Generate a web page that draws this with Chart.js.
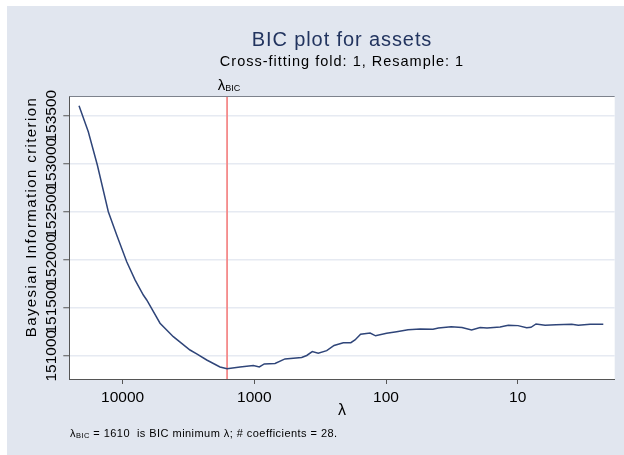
<!DOCTYPE html>
<html><head><meta charset="utf-8">
<script src="https://cdn.jsdelivr.net/npm/chart.js@4/dist/chart.umd.min.js"></script>
<style>html,body{margin:0;padding:0;background:#fff}#c{display:block}</style>
</head><body>
<canvas id="c" width="624" height="455"></canvas>
<script>
// lambda values (x) and BIC values (y)
const lambdas = [21430,18220,15560,12840,11090,9308,8050,6963,6561,5200,
  4121,3078,2737,2298,1822,1610,1284,1018,916,840,
  696,585,437,400,363,327,282,248,211,185,
  172,156,132,120,99,83,68,55,44,40,
  32,26.5,22.4,19.3,17.1,13.6,11.8,9.95,8.55,7.93,
  7.26,6.20,5.12,3.89,3.47,2.82,2.24];
const bic = [153604,153333,152986,152500,152257,151979,151789,151632,151580,151338,
  151198,151059,151018,150955,150882,150865,150882,150898,150882,150914,
  150919,150966,150981,151002,151042,151025,151052,151106,151135,151135,
  151164,151223,151236,151207,151233,151250,151271,151278,151276,151289,
  151302,151294,151268,151294,151289,151299,151317,151313,151292,151296,
  151330,151317,151322,151328,151317,151327,151327];
const xTickValues = [10000, 1000, 100, 10];
const yTickValues = [151000, 151500, 152000, 152500, 153000, 153500];
const lambdaBIC = 1610;
const nCoef = 28;
const titleText = "BIC plot for assets";
const subtitleText = "Cross-fitting fold: 1, Resample: 1";
const yTitle = "Bayesian Information criterion";

const X_MIN = 1.835, X_MAX = 25400, Y_MIN = 150757, Y_MAX = 153705;
const FONT = '"Liberation Sans", Arial, Helvetica, sans-serif';

function spaced(c, px) { try { c.letterSpacing = px + 'px'; } catch (e) {} }

const decor = {
  id: 'decor',
  beforeDraw(chart) {
    const c = chart.ctx, a = chart.chartArea;
    c.save();
    c.fillStyle = '#ffffff';
    c.fillRect(0, 0, chart.width, chart.height);
    c.fillStyle = '#e1e6ef';
    c.fillRect(7, 6, chart.width - 7, chart.height - 6);
    c.fillStyle = '#ffffff';
    c.fillRect(a.left, a.top, a.right - a.left, a.bottom - a.top);
    c.restore();
  },
  afterDraw(chart) {
    const c = chart.ctx, a = chart.chartArea;
    const ys = chart.scales.y, xs = chart.scales.x;
    c.save();
    // top border of plot region
    c.strokeStyle = '#7d828c';
    c.lineWidth = 1;
    c.beginPath();
    c.moveTo(a.left, a.top + 0.5);
    c.lineTo(a.right, a.top + 0.5);
    c.stroke();
    const cx = (a.left + a.right) / 2;
    // titles
    c.textAlign = 'center';
    c.textBaseline = 'middle';
    c.fillStyle = '#22345f';
    c.font = '20px ' + FONT;
    spaced(c, 0.9);
    c.fillText(titleText, cx, 40);
    c.fillStyle = '#000000';
    c.font = '14.5px ' + FONT;
    spaced(c, 1.0);
    c.fillText(subtitleText, cx, 62);
    spaced(c, 0);
    // x axis title
    c.font = '16px ' + FONT;
    c.fillText('λ', cx, 411);
    // y tick labels (rotated)
    c.font = '15.5px ' + FONT;
    ys.ticks.forEach(t => {
      const py = ys.getPixelForValue(t.value);
      c.save();
      c.translate(52, py);
      c.rotate(-Math.PI / 2);
      c.textAlign = 'center';
      c.textBaseline = 'middle';
      c.fillText(String(t.value), 0, 0);
      c.restore();
    });
    // y axis title
    c.save();
    c.translate(32, 217);
    c.rotate(-Math.PI / 2);
    c.font = '15px ' + FONT;
    spaced(c, 1.4);
    c.textAlign = 'center';
    c.textBaseline = 'middle';
    c.fillText(yTitle, 0, 0);
    c.restore();
    spaced(c, 0);
    // lambda BIC label above the red line
    const px = xs.getPixelForValue(lambdaBIC);
    c.textAlign = 'left';
    c.textBaseline = 'alphabetic';
    c.font = '15px ' + FONT;
    const w1 = c.measureText('λ').width;
    c.font = '9px ' + FONT;
    const w2 = c.measureText('BIC').width;
    let sx = px + 2 - (w1 + w2) / 2;
    c.font = '15px ' + FONT;
    c.fillText('λ', sx, 90);
    c.font = '9px ' + FONT;
    c.fillText('BIC', sx + w1, 91);
    // note
    let nx = 70;
    c.font = '11px ' + FONT;
    spaced(c, 0.45);
    c.fillText('λ', nx, 437);
    nx += c.measureText('λ').width;
    c.font = '7.5px ' + FONT;
    c.fillText('BIC', nx, 438);
    nx += c.measureText('BIC').width;
    c.font = '11px ' + FONT;
    c.fillText(' = ' + lambdaBIC + '  is BIC minimum λ; # coefficients = ' + nCoef + '.', nx, 437);
    c.restore();
  }
};

new Chart(document.getElementById('c'), {
  type: 'scatter',
  data: {
    datasets: [
      {
        data: lambdas.map((l, i) => ({ x: l, y: bic[i] })),
        showLine: true, borderColor: '#2f4579', borderWidth: 1.5,
        pointRadius: 0, tension: 0, order: 1
      },
      {
        data: [{ x: lambdaBIC, y: Y_MIN }, { x: lambdaBIC, y: Y_MAX }],
        showLine: true, borderColor: '#f48a8a', borderWidth: 1.8,
        pointRadius: 0, tension: 0, order: 2
      }
    ]
  },
  plugins: [decor],
  options: {
    responsive: false, animation: false, devicePixelRatio: 1,
    layout: { padding: { top: 96, right: 9.3, left: 0, bottom: 0 } },
    plugins: { legend: { display: false }, tooltip: { enabled: false }, title: { display: false } },
    scales: {
      x: {
        type: 'logarithmic', reverse: true, min: X_MIN, max: X_MAX,
        afterBuildTicks: s => { s.ticks = xTickValues.map(v => ({ value: v })); },
        afterFit: s => { s.height = 76; },
        ticks: { callback: v => String(v), autoSkip: false, maxRotation: 0, minRotation: 0,
                 font: { family: FONT, size: 15.5 }, color: '#000', padding: 4 },
        grid: { display: true, drawOnChartArea: false, drawTicks: true, tickLength: 5, tickColor: '#555', tickWidth: 1 },
        border: { display: true, color: '#555', width: 1 }
      },
      y: {
        type: 'linear', min: Y_MIN, max: Y_MAX,
        afterBuildTicks: s => { s.ticks = yTickValues.map(v => ({ value: v })); },
        afterFit: s => { s.width = 69.3; },
        ticks: { display: false },
        grid: { display: true, drawOnChartArea: true, color: '#e6eaf2', lineWidth: 1.5,
                drawTicks: true, tickLength: 6, tickColor: '#555', tickWidth: 1 },
        border: { display: true, color: '#555', width: 1 }
      }
    }
  }
});
</script>
</body></html>
